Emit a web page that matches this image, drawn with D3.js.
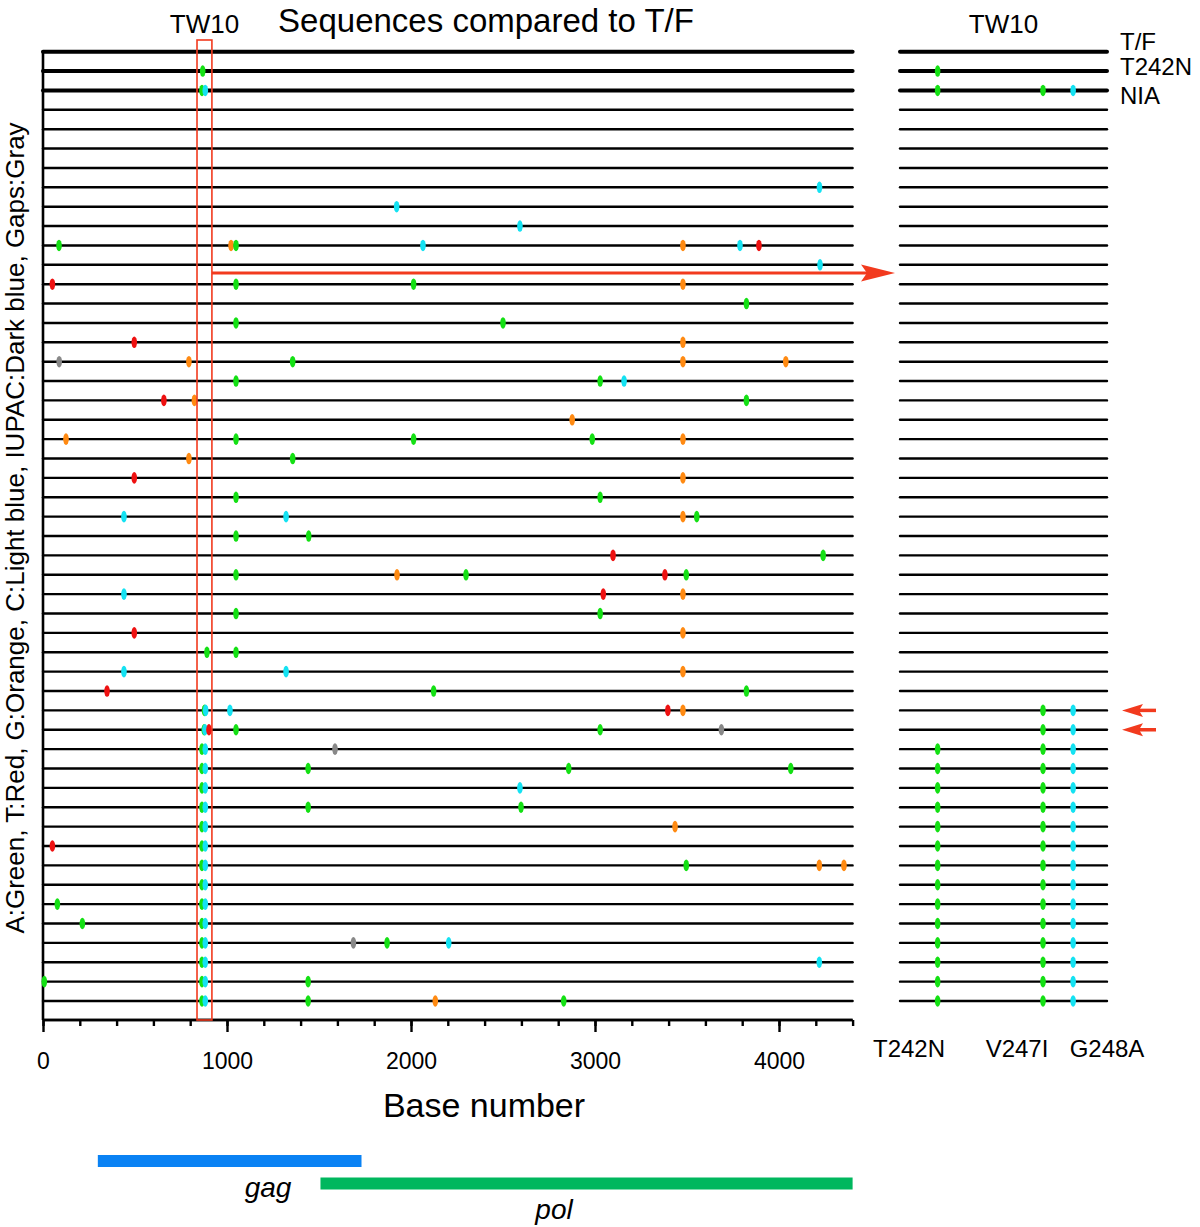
<!DOCTYPE html>
<html><head><meta charset="utf-8">
<script src="https://cdn.jsdelivr.net/npm/d3@7/dist/d3.min.js"></script>
<style>body{margin:0;background:#fff}svg{display:block;font-family:"Liberation Sans",Arial,Helvetica,sans-serif}</style>
</head><body>
<script>
// ---------------- DATA ----------------
const rowCount = 50;
const thickRows = [0, 1, 2];
const baseDomain = [0, 4400];
const majorTicks = [0, 1000, 2000, 3000, 4000];
const minorTicks = [0,200,400,600,800,1000,1200,1400,1600,1800,2000,2200,2400,2600,2800,3000,3200,3400,3600,3800,4000,4200,4400];
const tw10Region = [837, 918];
const geneNames = ["gag", "pol"];
const geneStart = [298, 1508];
const geneEnd = [1731, 4400];
const baseCodes = ["A", "T", "G", "C", "-"];
const baseColors = ["#14e014", "#ee1111", "#ff8a12", "#14e2f2", "#888888"];
// mutations vs T/F: [row, base position, nucleotide]
const mutations = [
  [1,868,"A"],
  [2,864,"A"],[2,882,"C"],
  [7,4220,"C"],
  [8,1922,"C"],
  [9,2592,"C"],
  [10,87,"A"],[10,1022,"G"],[10,1049,"A"],[10,2065,"C"],[10,3478,"G"],[10,3788,"C"],[10,3891,"T"],
  [11,4223,"C"],
  [12,51,"T"],[12,1049,"A"],[12,2014,"A"],[12,3478,"G"],
  [13,3823,"A"],
  [14,1049,"A"],[14,2500,"A"],
  [15,496,"T"],[15,3478,"G"],
  [16,88,"-"],[16,793,"G"],[16,1357,"A"],[16,3478,"G"],[16,4037,"G"],
  [17,1049,"A"],[17,3028,"A"],[17,3158,"C"],
  [18,657,"T"],[18,823,"G"],[18,3823,"A"],
  [19,2876,"G"],
  [20,125,"G"],[20,1049,"A"],[20,2014,"A"],[20,2985,"A"],[20,3478,"G"],
  [21,793,"G"],[21,1357,"A"],
  [22,496,"T"],[22,3478,"G"],
  [23,1049,"A"],[23,3028,"A"],
  [24,440,"C"],[24,1321,"C"],[24,3478,"G"],[24,3553,"A"],
  [25,1049,"A"],[25,1444,"A"],
  [26,3098,"T"],[26,4240,"A"],
  [27,1049,"A"],[27,1924,"G"],[27,2299,"A"],[27,3380,"T"],[27,3496,"A"],
  [28,440,"C"],[28,3045,"T"],[28,3478,"G"],
  [29,1049,"A"],[29,3028,"A"],
  [30,496,"T"],[30,3478,"G"],
  [31,891,"A"],[31,1049,"A"],
  [32,440,"C"],[32,1321,"C"],[32,3478,"G"],
  [33,348,"T"],[33,2123,"A"],[33,3823,"A"],
  [34,878,"A"],[34,884,"C"],[34,1016,"C"],[34,3396,"T"],[34,3478,"G"],
  [35,876,"A"],[35,880,"C"],[35,902,"T"],[35,1049,"A"],[35,3028,"A"],[35,3687,"-"],
  [36,864,"A"],[36,882,"C"],[36,1587,"-"],
  [37,864,"A"],[37,882,"C"],[37,1441,"A"],[37,2857,"A"],[37,4064,"A"],
  [38,864,"A"],[38,882,"C"],[38,2592,"C"],
  [39,864,"A"],[39,882,"C"],[39,1441,"A"],[39,2598,"A"],
  [40,864,"A"],[40,882,"C"],[40,3435,"G"],
  [41,51,"T"],[41,864,"A"],[41,882,"C"],
  [42,864,"A"],[42,882,"C"],[42,3496,"A"],[42,4219,"G"],[42,4353,"G"],
  [43,864,"A"],[43,882,"C"],
  [44,78,"A"],[44,864,"A"],[44,882,"C"],
  [45,214,"A"],[45,864,"A"],[45,882,"C"],
  [46,864,"A"],[46,882,"C"],[46,1687,"-"],[46,1870,"A"],[46,2205,"C"],
  [47,864,"A"],[47,882,"C"],[47,4219,"C"],
  [48,7,"A"],[48,864,"A"],[48,882,"C"],[48,1441,"A"],
  [49,864,"A"],[49,882,"C"],[49,1441,"A"],[49,2132,"G"],[49,2830,"A"]
];
// TW10 epitope panel
const tw10Sites = ["T242N", "V247I", "G248A"];
const tw10SiteNt = [8, 22, 26];        // nucleotide within epitope
const tw10SiteBase = ["A", "A", "C"];
const tw10NtDomain = [3, 30.5];
// per row: which of the three sites are mutated (1) or not (0)
const tw10Pattern = [
  "000","100","111","000","000","000","000","000","000","000",
  "000","000","000","000","000","000","000","000","000","000",
  "000","000","000","000","000","000","000","000","000","000",
  "000","000","000","000","011","011","111","111","111","111",
  "111","111","111","111","111","111","111","111","111","111"
];
const rowLabels = ["T/F", "T242N", "NIA"];
const arrowRows = [34, 35];
const yAxisLabel = "A:Green, T:Red, G:Orange, C:Light blue, IUPAC:Dark blue, Gaps:Gray";

// ---------------- DRAW ----------------
const W = 1200, H = 1227;
const svg = d3.select("body").append("svg").attr("width", W).attr("height", H);

const x = d3.scaleLinear().domain(baseDomain).range([43, 852.6]);
const y = d3.scalePoint().domain(d3.range(rowCount)).range([51.7, 1001]);
const xR = d3.scaleLinear().domain(tw10NtDomain).range([900, 1107]);
const color = d3.scaleOrdinal().domain(baseCodes).range(baseColors);
const axisY = 1020;
const red = "#f23a1e";

// title
svg.append("text").attr("x", 486).attr("y", 32).attr("text-anchor", "middle")
  .attr("font-size", 33).text("Sequences compared to T/F");
svg.append("text").attr("x", x((tw10Region[0] + tw10Region[1]) / 2)).attr("y", 33)
  .attr("text-anchor", "middle").attr("font-size", 26).text("TW10");
svg.append("text").attr("x", (xR.range()[0] + xR.range()[1]) / 2).attr("y", 33)
  .attr("text-anchor", "middle").attr("font-size", 26).text("TW10");

// y label
svg.append("text").attr("transform", "translate(24,528) rotate(-90)")
  .attr("text-anchor", "middle").attr("font-size", 26).text(yAxisLabel);

// left rows
svg.append("g").selectAll("line").data(d3.range(rowCount)).join("line")
  .attr("x1", x(0)).attr("x2", x(baseDomain[1]))
  .attr("y1", d => y(d)).attr("y2", d => y(d))
  .attr("stroke", "#000")
  .attr("stroke-width", d => thickRows.includes(d) ? 4 : 2.4)
  .attr("stroke-linecap", "round");

// left vertical axis line
svg.append("line").attr("x1", x(0)).attr("x2", x(0)).attr("y1", y(0) - 1).attr("y2", axisY)
  .attr("stroke", "#000").attr("stroke-width", 2.6);

// bottom axis
const gMinor = svg.append("g").attr("transform", `translate(0,${axisY})`)
  .call(d3.axisBottom(x).tickValues(minorTicks).tickSize(6).tickFormat(""));
const gMajor = svg.append("g").attr("transform", `translate(0,${axisY})`)
  .call(d3.axisBottom(x).tickValues(majorTicks).tickSize(12).tickPadding(21).tickFormat(d3.format("d")));
[gMinor, gMajor].forEach(g => {
  g.select(".domain").attr("stroke", "#000").attr("stroke-width", 2.6).attr("d", `M${x(0)},0H${x(baseDomain[1])}`);
  g.selectAll(".tick line").attr("stroke", "#000").attr("stroke-width", 2.4);
});
gMajor.selectAll(".tick text").attr("font-size", 23).attr("font-family", "'Liberation Sans',Arial,sans-serif").attr("fill", "#000");

svg.append("text").attr("x", 484).attr("y", 1117).attr("text-anchor", "middle")
  .attr("font-size", 34).text("Base number");

// mutation marks (left)
svg.append("g").selectAll("ellipse").data(mutations).join("ellipse")
  .attr("cx", d => x(d[1])).attr("cy", d => y(d[0]))
  .attr("rx", 2.8).attr("ry", 5.8)
  .attr("fill", d => color(d[2]));

// TW10 box
svg.append("rect").attr("x", x(tw10Region[0])).attr("y", 40)
  .attr("width", x(tw10Region[1]) - x(tw10Region[0])).attr("height", axisY - 40)
  .attr("fill", "none").attr("stroke", red).attr("stroke-width", 1.6);

// big arrow
const arrowY = (y(11) + y(12)) / 2 - 1.5;
const tip = xR.range()[0] - 5;
svg.append("line").attr("x1", x(tw10Region[1])).attr("x2", tip - 26)
  .attr("y1", arrowY).attr("y2", arrowY).attr("stroke", red).attr("stroke-width", 3);
svg.append("path")
  .attr("d", `M${tip},${arrowY} L${tip - 34},${arrowY - 8.5} L${tip - 28},${arrowY} L${tip - 34},${arrowY + 8.5} Z`)
  .attr("fill", red);

// right rows
svg.append("g").selectAll("line").data(d3.range(rowCount)).join("line")
  .attr("x1", xR.range()[0]).attr("x2", xR.range()[1])
  .attr("y1", d => y(d)).attr("y2", d => y(d))
  .attr("stroke", "#000")
  .attr("stroke-width", d => thickRows.includes(d) ? 4 : 2.4)
  .attr("stroke-linecap", "round");

const tw10Marks = [];
tw10Pattern.forEach((p, r) => p.split("").forEach((c, i) => { if (c === "1") tw10Marks.push([r, i]); }));
svg.append("g").selectAll("ellipse").data(tw10Marks).join("ellipse")
  .attr("cx", d => xR(tw10SiteNt[d[1]])).attr("cy", d => y(d[0]))
  .attr("rx", 2.8).attr("ry", 5.8)
  .attr("fill", d => color(tw10SiteBase[d[1]]));

// row labels
const labelBase = [50, 75, 104];
svg.append("g").selectAll("text").data(rowLabels).join("text")
  .attr("x", 1120).attr("y", (d, i) => labelBase[i]).attr("font-size", 24).text(d => d);

// site labels
const siteLabelX = [909, 1017, 1107];
svg.append("g").selectAll("text").data(tw10Sites).join("text")
  .attr("x", (d, i) => siteLabelX[i]).attr("y", 1057).attr("text-anchor", "middle")
  .attr("font-size", 24).text(d => d);

// small arrows
arrowRows.forEach(r => {
  const yy = y(r), t = 1122;
  svg.append("line").attr("x1", t + 16).attr("x2", t + 34).attr("y1", yy).attr("y2", yy)
    .attr("stroke", red).attr("stroke-width", 3.5);
  svg.append("path").attr("d", `M${t},${yy} L${t + 21},${yy - 6.5} L${t + 17},${yy} L${t + 21},${yy + 6.5} Z`)
    .attr("fill", red);
});

// genes
const geneY = [1161, 1183.5];
const geneColor = ["#0a82f4", "#00b75e"];
const geneLabelPos = [[268, 1197], [554, 1219]];
geneNames.forEach((g, i) => {
  svg.append("rect").attr("x", x(geneStart[i])).attr("y", geneY[i] - 6)
    .attr("width", x(geneEnd[i]) - x(geneStart[i])).attr("height", 12).attr("fill", geneColor[i]);
  svg.append("text").attr("x", geneLabelPos[i][0]).attr("y", geneLabelPos[i][1])
    .attr("text-anchor", "middle").attr("font-size", 28).attr("font-style", "italic").text(g);
});
</script>
</body></html>
